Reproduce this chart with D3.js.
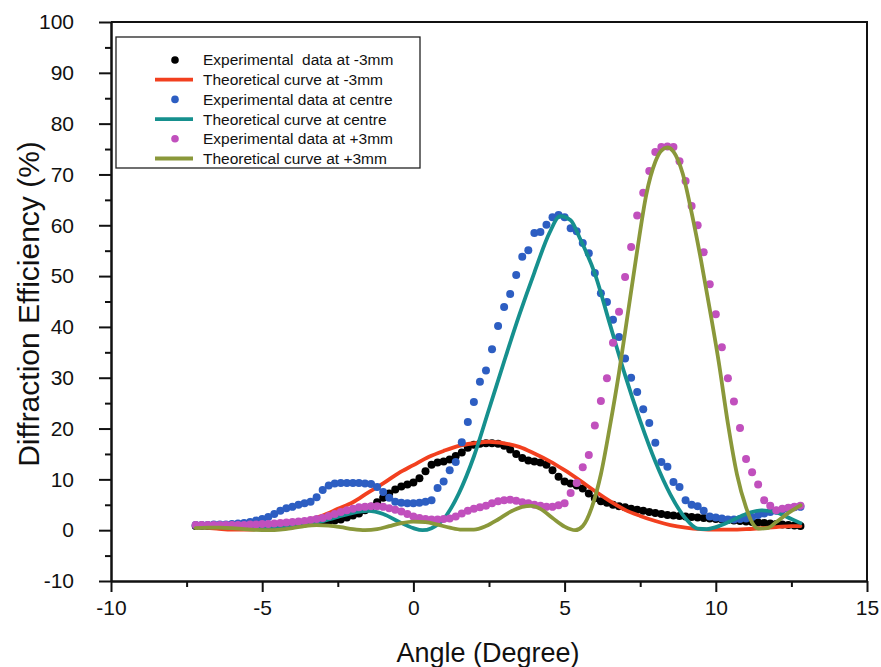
<!DOCTYPE html>
<html>
<head>
<meta charset="utf-8">
<script src="https://cdn.jsdelivr.net/npm/d3@7"></script>
<style>
  html, body { margin: 0; padding: 0; background: #fff; }
  svg { display: block; font-family: Arial, "Liberation Sans", sans-serif; }
</style>
</head>
<body>
<svg id="chart" width="881" height="667"></svg>
<script>
// Measured angles (degrees) shared by the three experimental series
const angles = [-7.2,-7.0,-6.8,-6.6,-6.4,-6.2,-6.0,-5.8,-5.6,-5.4,-5.2,-5.0,-4.8,-4.6,-4.4,-4.2,-4.0,-3.8,-3.6,-3.4,
  -3.2,-3.0,-2.8,-2.6,-2.4,-2.2,-2.0,-1.8,-1.6,-1.4,-1.2,-1.0,-0.8,-0.6,-0.4,-0.2,0.0,0.2,0.4,0.6,
  0.8,1.0,1.2,1.4,1.6,1.8,2.0,2.2,2.4,2.6,2.8,3.0,3.2,3.4,3.6,3.8,4.0,4.2,4.4,4.6,
  4.8,5.0,5.2,5.4,5.6,5.8,6.0,6.2,6.4,6.6,6.8,7.0,7.2,7.4,7.6,7.8,8.0,8.2,8.4,8.6,
  8.8,9.0,9.2,9.4,9.6,9.8,10.0,10.2,10.4,10.6,10.8,11.0,11.2,11.4,11.6,11.8,12.0,12.2,12.4,12.6,12.8];

// Experimental diffraction efficiency (%) at -3 mm
const expMinus3 = [0.8,0.8,0.8,0.8,0.8,0.8,0.8,0.8,0.9,0.9,0.9,1.0,1.0,1.0,1.1,1.1,1.2,1.2,1.3,1.4,
  1.5,1.6,1.8,1.9,2.1,2.5,2.9,3.3,3.9,4.6,5.5,6.4,7.2,8.0,8.6,9.0,9.4,10.2,11.6,12.9,
  13.3,13.5,13.9,14.6,15.3,16.2,16.8,17.0,17.1,17.1,17.0,16.6,15.9,15.0,14.2,13.7,13.5,13.3,12.9,11.8,
  10.5,9.6,9.2,8.8,8.2,7.2,6.3,5.7,5.4,5.0,4.7,4.5,4.2,4.0,3.8,3.6,3.4,3.2,3.0,2.9,
  2.8,2.7,2.6,2.5,2.4,2.3,2.2,2.1,2.0,1.9,1.8,1.7,1.6,1.5,1.4,1.3,1.2,1.1,1.0,0.9,0.8];

// Experimental diffraction efficiency (%) at centre
const expCentre = [1.0,1.0,1.0,1.1,1.1,1.1,1.2,1.3,1.4,1.6,1.9,2.2,2.6,3.2,3.8,4.3,4.6,5.0,5.3,5.6,
  6.5,7.9,8.8,9.2,9.3,9.3,9.3,9.3,9.2,9.1,8.5,7.5,6.4,5.6,5.4,5.3,5.3,5.4,5.6,5.9,
  8.3,9.6,11.8,13.4,17.3,21.3,25.2,29.2,31.4,35.6,40.2,43.9,46.5,50.2,53.8,55.1,58.5,58.7,60.1,61.6,
  62.0,61.6,59.4,58.8,56.5,54.5,50.6,46.6,44.9,41.4,38.0,33.8,30.0,27.2,23.8,21.1,17.2,13.4,12.5,9.5,
  8.5,5.9,5.0,4.7,3.8,2.7,2.5,2.3,2.1,2.1,2.2,2.3,2.6,3.0,3.3,3.6,3.8,4.0,4.3,4.5,4.6];

// Experimental diffraction efficiency (%) at +3 mm
const expPlus3 = [1.0,1.0,1.0,1.0,1.0,1.0,1.0,1.0,1.0,1.1,1.1,1.2,1.2,1.3,1.4,1.5,1.6,1.7,1.8,2.0,
  2.2,2.4,2.8,3.2,3.6,3.9,4.2,4.5,4.6,4.7,4.7,4.6,4.3,4.0,3.7,3.2,2.7,2.4,2.2,2.1,
  2.1,2.2,2.3,2.7,3.3,3.8,4.2,4.5,4.8,5.3,5.7,5.9,6.0,5.8,5.5,5.3,5.0,4.8,4.6,4.6,
  4.9,5.3,7.3,9.3,12.4,14.8,20.6,25.4,29.9,36.9,43.0,49.8,55.7,61.9,66.4,70.7,74.4,75.4,75.5,75.4,
  72.6,68.7,63.8,60.0,54.7,48.4,42.5,36.0,29.9,25.3,20.1,14.0,11.4,9.0,5.9,4.8,3.9,4.2,4.4,4.6,4.8];

// Theoretical curve at -3 mm
const theoryMinus3Angle = [-7.2,-6.5,-6.0,-5.5,-5.0,-4.5,-4.0,-3.5,-3.0,-2.5,-2.0,-1.5,-1.0,-0.5,0.0,0.5,1.0,1.5,2.0,2.5,
  3.0,3.5,4.0,4.5,5.0,5.5,6.0,6.5,7.0,7.5,8.0,8.5,9.0,9.5,10.0,10.5,11.0,11.5,12.0,12.5,12.8];
const theoryMinus3 = [0.6,0.3,0.1,0.1,0.3,0.8,1.4,2.0,2.9,4.2,5.5,7.4,9.2,11.2,12.8,14.4,15.6,16.6,17.1,17.4,
  17.1,16.4,15.1,13.6,11.8,9.8,7.7,5.7,4.0,2.8,1.8,1.0,0.5,0.2,0.1,0.1,0.2,0.4,0.6,0.8,0.8];

// Theoretical curve at centre
const theoryCentreAngle = [-7.2,-6.5,-6.0,-5.5,-5.0,-4.5,-4.0,-3.5,-3.0,-2.5,-2.0,-1.5,-1.0,-0.5,0.0,0.3,0.6,1.0,1.5,2.0,
  2.5,3.0,3.5,4.0,4.5,4.85,5.2,5.5,6.0,6.5,7.0,7.5,8.0,8.5,9.0,9.4,9.7,10.0,10.5,11.0,11.5,12.0,12.5,12.8];
const theoryCentre = [0.5,0.6,0.5,0.4,0.4,0.5,0.7,1.1,1.8,2.6,3.4,3.8,3.2,1.7,0.4,0.0,0.4,2.2,7.2,14.5,
  23.8,33.2,42.3,50.7,58.5,61.8,61.0,57.5,50.5,40.5,30.5,21.5,13.5,7.0,2.3,0.3,0.2,0.6,1.8,3.2,3.9,3.5,2.2,1.4];

// Theoretical curve at +3 mm
const theoryPlus3Angle = [-7.2,-6.8,-6.4,-6.0,-5.6,-5.2,-4.8,-4.4,-4.0,-3.6,-3.2,-2.8,-2.4,-2.0,-1.6,-1.2,-0.8,-0.4,0.0,0.4,
  0.8,1.2,1.6,2.0,2.4,2.8,3.2,3.6,3.9,4.2,4.6,5.0,5.35,5.6,5.9,6.2,6.5,6.8,7.1,7.4,
  7.7,8.0,8.2,8.4,8.6,8.9,9.2,9.5,9.8,10.1,10.4,10.7,11.0,11.2,11.4,11.7,12.0,12.4,12.8];
const theoryPlus3 = [0.4,0.5,0.5,0.4,0.2,0.05,0.0,0.1,0.4,0.8,1.0,0.9,0.6,0.2,0.0,0.2,0.8,1.4,1.7,1.6,
  1.1,0.5,0.1,0.1,0.8,2.1,3.6,4.6,4.8,4.2,2.4,0.7,0.0,0.8,4.5,11.0,20.5,31.0,43.0,55.0,
  66.0,72.5,74.7,75.3,74.5,70.3,62.5,53.5,43.5,33.0,21.0,11.0,4.5,1.5,0.3,0.4,1.6,3.4,4.9];

const xTicks = [-10, -5, 0, 5, 10, 15];
const yTicks = [-10, 0, 10, 20, 30, 40, 50, 60, 70, 80, 90, 100];

const seriesInfo = [
  { type: "dots", label: "Experimental  data at -3mm", color: "#000000", xs: angles, ys: expMinus3 },
  { type: "line", label: "Theoretical curve at -3mm", color: "#f2401f", xs: theoryMinus3Angle, ys: theoryMinus3 },
  { type: "dots", label: "Experimental data at centre", color: "#2d5ec2", xs: angles, ys: expCentre },
  { type: "line", label: "Theoretical curve at centre", color: "#16908e", xs: theoryCentreAngle, ys: theoryCentre },
  { type: "dots", label: "Experimental data at +3mm", color: "#c150bd", xs: angles, ys: expPlus3 },
  { type: "line", label: "Theoretical curve at +3mm", color: "#8a983a", xs: theoryPlus3Angle, ys: theoryPlus3 }
];

const svg = d3.select("#chart");
const W = 881, H = 667;
const plotL = 111, plotR = 867, plotT = 22, plotB = 581;

svg.append("rect").attr("width", W).attr("height", H).attr("fill", "#fff");

const x = d3.scaleLinear().domain([-10, 15]).range([plotL, plotR]);
const y = d3.scaleLinear().domain([-10, 100]).range([plotB, plotT]);

// Plot frame (top and right edges carry no ticks)
svg.append("path")
  .attr("d", `M${plotL},${plotT}H${plotR}V${plotB}`)
  .attr("fill", "none").attr("stroke", "#111").attr("stroke-width", 2);

const plot = svg.append("g");

// Draw series in legend order
seriesInfo.forEach(s => {
  const pts = s.xs.map((v, i) => [v, s.ys[i]]);
  if (s.type === "dots") {
    plot.append("g").selectAll("circle").data(pts).join("circle")
      .attr("cx", d => x(d[0])).attr("cy", d => y(d[1]))
      .attr("r", 4).attr("fill", s.color);
  } else {
    const line = d3.line().x(d => x(d[0])).y(d => y(d[1])).curve(d3.curveMonotoneX);
    plot.append("path").datum(pts).attr("d", line)
      .attr("fill", "none").attr("stroke", s.color)
      .attr("stroke-width", 3.8).attr("stroke-linejoin", "round").attr("stroke-linecap", "round");
  }
});

// Axes: major ticks with labels, minor ticks halfway between
const xMinor = d3.range(-10, 15.01, 2.5).filter(v => !xTicks.includes(v));
const yMinor = d3.range(-10, 100.01, 5).filter(v => !yTicks.includes(v));
const plainFmt = d => String(d);

svg.append("g").attr("transform", `translate(0,${plotB})`)
  .call(d3.axisBottom(x).tickValues(xTicks).tickSize(11).tickPadding(8).tickSizeOuter(0).tickFormat(plainFmt));
svg.append("g").attr("transform", `translate(0,${plotB})`)
  .call(d3.axisBottom(x).tickValues(xMinor).tickSize(6).tickFormat("").tickSizeOuter(0));
svg.append("g").attr("transform", `translate(${plotL},0)`)
  .call(d3.axisLeft(y).tickValues(yTicks).tickSize(12).tickPadding(25).tickSizeOuter(0).tickFormat(plainFmt));
svg.append("g").attr("transform", `translate(${plotL},0)`)
  .call(d3.axisLeft(y).tickValues(yMinor).tickSize(6).tickFormat("").tickSizeOuter(0));

svg.selectAll(".domain").attr("stroke", "#111").attr("stroke-width", 2);
svg.selectAll(".tick line").attr("stroke", "#111").attr("stroke-width", 2);
svg.selectAll(".tick text").attr("font-size", 21).attr("fill", "#111")
  .attr("font-family", "Arial, 'Liberation Sans', sans-serif");

// Axis titles
svg.append("text").attr("x", 488).attr("y", 662).attr("text-anchor", "middle")
  .attr("font-size", 27).attr("fill", "#111").text("Angle (Degree)");
svg.append("text").attr("transform", "translate(39,304) rotate(-90)").attr("text-anchor", "middle")
  .attr("font-size", 30).attr("fill", "#111").text("Diffraction Efficiency (%)");

// Legend
const lg = svg.append("g");
lg.append("rect").attr("x", 116).attr("y", 37).attr("width", 304).attr("height", 131)
  .attr("fill", "#fff").attr("stroke", "#222").attr("stroke-width", 1.3);
seriesInfo.forEach((s, i) => {
  const cy = 60 + i * 19.7;
  if (s.type === "dots") {
    lg.append("circle").attr("cx", 175).attr("cy", cy).attr("r", 3.8).attr("fill", s.color);
  } else {
    lg.append("line").attr("x1", 155).attr("x2", 193).attr("y1", cy).attr("y2", cy)
      .attr("stroke", s.color).attr("stroke-width", 3.8);
  }
  lg.append("text").attr("x", 203).attr("y", cy).attr("dy", "0.35em")
    .attr("font-size", 15.5).attr("fill", "#111")
    .style("white-space", "pre").text(s.label);
});
</script>
</body>
</html>
